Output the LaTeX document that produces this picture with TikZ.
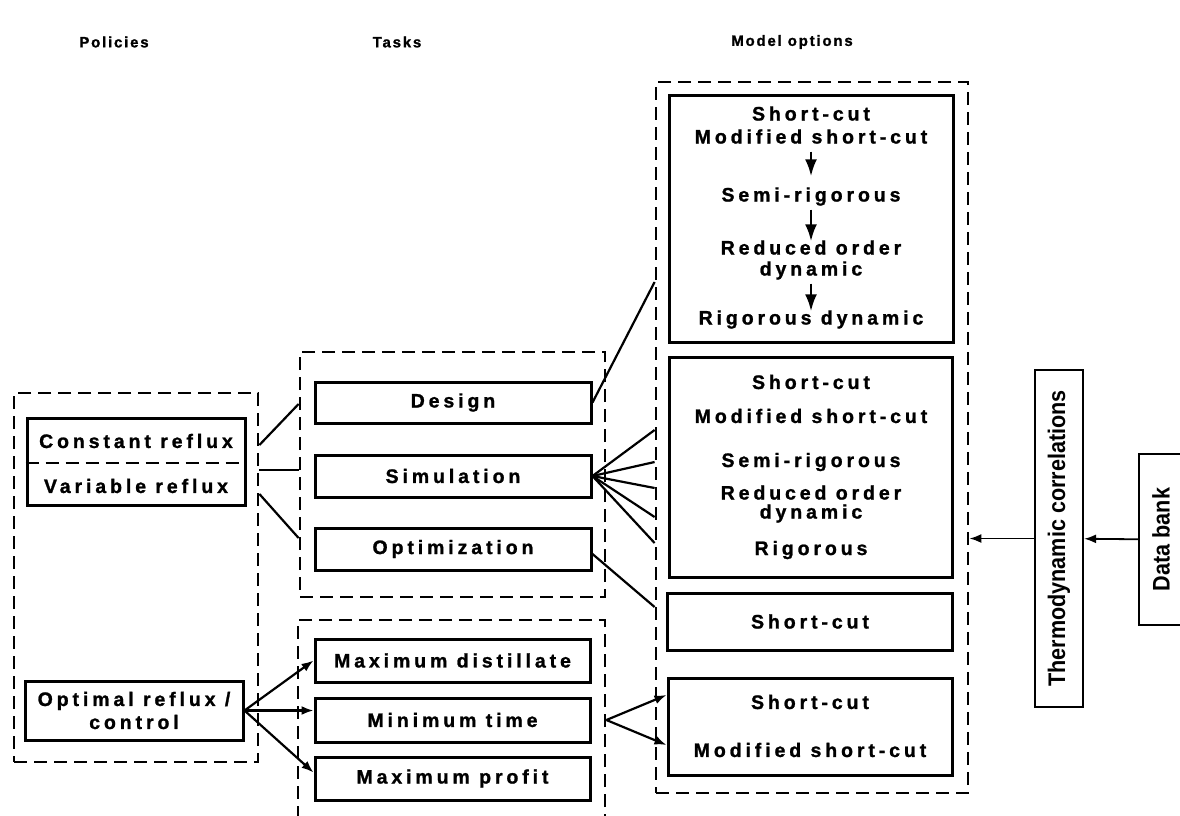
\documentclass[tikz,border=0pt]{standalone}
\usepackage{fontspec}
\setmainfont{Liberation Sans}[LetterSpace=20,BoldFeatures={FakeBold=1.2}]
\newfontfamily\sidefont{Liberation Sans}[FakeStretch=0.9]
\usetikzlibrary{arrows.meta}

\begin{document}
\begin{tikzpicture}[x=1pt,y=-1pt,>={Latex[length=12pt,width=9pt]},
  every node/.style={font=\fontsize{19.5}{23}\selectfont\bfseries},
  grp/.style={draw,line width=2.8pt,dash pattern=on 13pt off 7pt,inner sep=0pt},
  box/.style={draw,line width=3pt,inner sep=0pt},
  conn/.style={line width=2.2pt},
  dn/.style={-{Latex[length=17pt,width=12pt]},line width=2.6pt,shorten <=4pt},
  tharr/.style={-{Latex[length=12pt,width=9pt]},line width=1.8pt},
  hdr/.style={font=\fontsize{15}{17}\selectfont\bfseries\addfontfeatures{LetterSpace=12}},
  side/.style={font=\sidefont\fontsize{24}{26}\selectfont\bfseries},
  sz/.style 2 args={minimum width=#1pt,minimum height=#2pt},
  ln/.style={inner sep=0pt,text height=13pt,text depth=4pt}]
\useasboundingbox (0,0) rectangle (1180,815);

% column titles
\node[hdr] (hpol) at (114,42) {Policies};
\node[hdr] (htask) at (397,42) {Tasks};
\node[hdr] (hmod) at (792,42) {Model options};

% policies
\node[grp,sz={244}{369}] (policies) at (136,577.5) {};
\node[box,sz={218}{87}] (reflux) at (136,461.5) {};
\draw[grp] ([yshift=-1.5pt]reflux.west) -- ([yshift=-1.5pt]reflux.east);
\node (const) at (136,441) {Constant reflux};
\node (var) at (136,486) {Variable reflux};
\node[box,sz={218}{59},align=center] (optimal) at (134,710.5) {Optimal reflux /\\control};

% tasks
\node[grp,sz={305}{245}] (tasksA) at (452.5,474.5) {};
\node[box,sz={276}{41}] (design) at (453,402.5) {Design};
\node[box,sz={276}{42}] (sim) at (453,476) {Simulation};
\node[box,sz={276}{42}] (optim) at (453,549) {Optimization};
\node[grp,sz={307}{240}] (tasksB) at (451.5,740) {};
\node[box,sz={275}{43}] (maxdist) at (452.5,660.5) {Maximum distillate};
\node[box,sz={275}{44}] (mintime) at (452.5,720) {Minimum time};
\node[box,sz={275}{43}] (maxprofit) at (452.5,778.5) {Maximum profit};

% model options
\node[grp,sz={312}{711}] (models) at (812,437.5) {};
\node[box,sz={284}{247}] (opt1) at (811,218.5) {};
\node[ln] (a1) at (811,116) {Short-cut};
\node[ln] (a2) at (811,139) {Modified short-cut};
\node[ln] (a3) at (811,197) {Semi-rigorous};
\node[ln] (a4) at (811,250) {Reduced order};
\node[ln] (a5) at (811,271) {dynamic};
\node[ln] (a6) at (811,320) {Rigorous dynamic};
\draw[dn,shorten >=12pt] (a2) -- (a3);
\draw[dn] (a3) -- (a4);
\draw[dn] (a5) -- (a6);

\node[box,sz={283}{220}] (opt2) at (810.5,467) {};
\node (b1) at (811,382) {Short-cut};
\node (b2) at (811,416) {Modified short-cut};
\node (b3) at (811,462) {Semi-rigorous};
\node[align=center,font=\fontsize{19.5}{19}\selectfont\bfseries] (b4) at (811,504) {Reduced order\\dynamic};
\node (b6) at (811,550) {Rigorous};

\node[box,sz={285}{57}] (opt3) at (810,621.5) {Short-cut};

\node[box,sz={284}{97}] (opt4) at (810,726.5) {};
\node (d1) at (810,702) {Short-cut};
\node (d2) at (810,750) {Modified short-cut};

% data side
\node[box,side,line width=2.2pt,sz={48}{337}] (thermo) at (1059,538.5) {\rotatebox{90}{Thermodynamic correlations}};
\node[box,side,line width=2.2pt,sz={44}{171}] (data) at (1161,539.5) {\rotatebox{90}{Data bank}};

% links
\draw[conn] (policies.east |- 0,445) -- (tasksA.west |- 0,404);
\draw[conn] (policies.east |- 0,470) -- (tasksA.west |- 0,470);
\draw[conn] (policies.east |- 0,494) -- (tasksA.west |- 0,538);
\draw[conn] (design.east) -- (models.west |- 0,282);
\foreach \yy in {430,462,488,517,543}
  \draw[conn] (sim.east) -- (models.west |- 0,\yy);
\draw[conn] ([yshift=-5pt]optim.east) -- (models.west |- 0,607);
\draw[conn,->] (optimal.east) -- (maxdist.west);
\draw[conn,->] (optimal.east) -- (mintime.west |- optimal.east);
\draw[conn,->] (optimal.east) -- ([yshift=6pt]maxprofit.west);
\draw[conn,->] (tasksB.east |- mintime.east) -- (opt4.west |- 0,695);
\draw[conn,->] (tasksB.east |- mintime.east) -- (opt4.west |- 0,745);
\draw[tharr] (data) -- (thermo);
\draw[tharr] (thermo.west) -- (models.east |- thermo.west);
\end{tikzpicture}
\end{document}
